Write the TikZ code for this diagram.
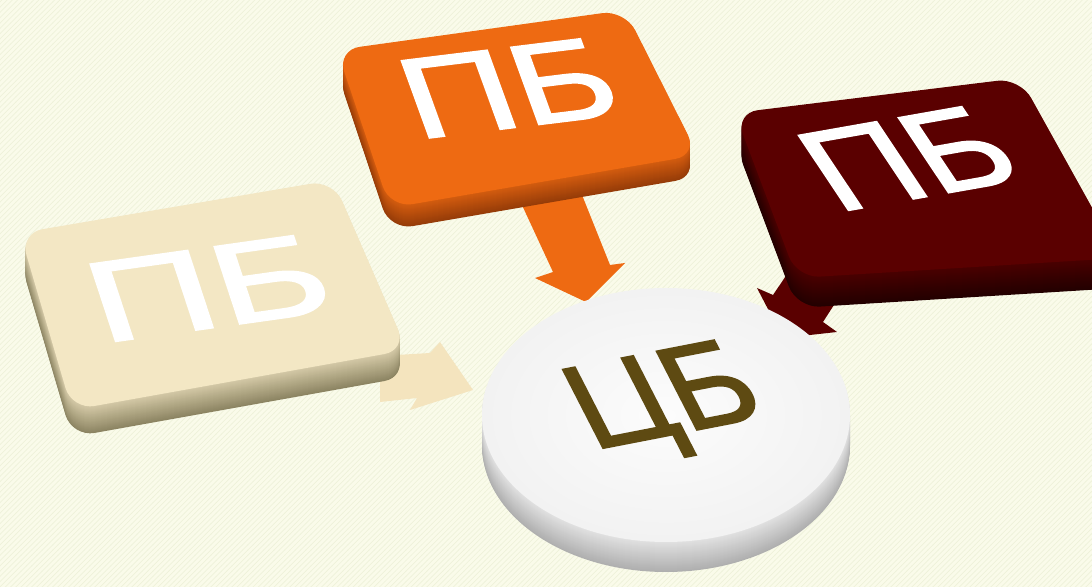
\documentclass[tikz,border=0pt]{standalone}
\usepackage{fontspec}
\setmainfont{Liberation Sans}
\newfontfamily\platefont{Liberation Sans}[FakeBold=1.6]
\usetikzlibrary{patterns}

\definecolor{bgcream}{RGB}{250,251,234}
\definecolor{bgstripe}{RGB}{238,242,218}
\definecolor{beigetop}{RGB}{243,231,196}
\definecolor{beigeside}{RGB}{140,132,98}
\definecolor{beigearrow}{RGB}{244,228,190}
\definecolor{orangetop}{RGB}{238,106,18}
\definecolor{orangeside}{RGB}{150,60,8}
\definecolor{maroontop}{RGB}{90,0,0}
\definecolor{maroonside}{RGB}{35,0,0}
\definecolor{disktop}{RGB}{252,252,252}
\definecolor{diskside}{RGB}{175,175,175}
\definecolor{cbolive}{RGB}{94,74,18}

\tikzset{
  face/.style={rounded corners=13pt},
  bigletters/.style={font=\platefont\fontsize{66}{70}\selectfont, inner sep=0pt},
}

\begin{document}
\begin{tikzpicture}[x=0.02cm,y=-0.02cm]
\fill[bgcream] (0,0) rectangle (1092,587);
\fill[pattern=north east lines, pattern color=bgstripe] (0,0) rectangle (1092,587);
\clip (0,0) rectangle (1092,587);

% arrows
\fill[beigearrow] (380,356) -- (430,353) -- (440,342) -- (473,390) -- (410,410) -- (417,398) -- (380,402) -- cycle;
\fill[orangetop] (515,190) -- (553,272) -- (535,278) -- (586,302) -- (625,263) -- (610,265) -- (578,185) -- cycle;
\fill[maroontop] (800,255) -- (773,295) -- (757,288) -- (783,338) -- (837,332) -- (823,322) -- (850,280) -- cycle;

% central disk
\foreach \k in {30,29,...,1} {
  \pgfmathtruncatemacro\p{35+65*\k/30}
  \fill[diskside!\p!disktop] (666,415+\k) ellipse [x radius=184, y radius=127];
}
\shade[inner color=disktop, outer color=disktop!96!black] (666,415) ellipse [x radius=184, y radius=127];

% beige block
\foreach \k in {27,26,...,1} {
  \pgfmathtruncatemacro\p{30+70*\k/27}
  \fill[beigeside!\p!beigetop, face, shift={(0,\k)}] (20,233) -- (333,180) -- (407,350) -- (72,410) -- cycle;
}
\fill[beigetop, face] (20,233) -- (333,180) -- (407,350) -- (72,410) -- cycle;

% orange block
\foreach \k in {22,21,...,1} {
  \pgfmathtruncatemacro\p{30+70*\k/22}
  \fill[orangeside!\p!orangetop, face, shift={(0,\k)}] (337,50) -- (625,10) -- (698,155) -- (390,208) -- cycle;
}
\fill[orangetop, face] (337,50) -- (625,10) -- (698,155) -- (390,208) -- cycle;

% maroon block
\foreach \k in {30,29,...,1} {
  \pgfmathtruncatemacro\p{30+70*\k/30}
  \fill[maroonside!\p!maroontop, face, shift={(0,\k)}] (735,113) -- (1020,78) -- (1120,258) -- (797,278) -- cycle;
}
\fill[maroontop, face] (735,113) -- (1020,78) -- (1120,258) -- (797,278) -- cycle;

% labels
\node[bigletters, text=white, rotate=8, xslant=-0.18, xscale=1.5] (pbbeige) at (208,288) {ПБ};
\node[bigletters, text=white, rotate=7, xslant=-0.23, xscale=1.32] (pborange) at (508,88) {ПБ};
\node[bigletters, font=\platefont\fontsize{68}{72}\selectfont, text=white, rotate=10, xslant=-0.44, xscale=1.18] (pbmaroon) at (908,158) {ПБ};
\node[bigletters, font=\platefont\fontsize{70}{74}\selectfont, text=cbolive, rotate=11, xslant=-0.29, xscale=1.05] (cb) at (667,405) {ЦБ};
\end{tikzpicture}
\end{document}
